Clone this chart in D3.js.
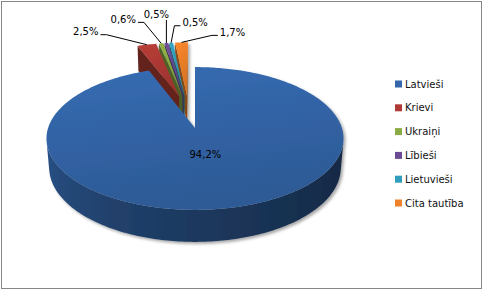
<!DOCTYPE html>
<html>
<head>
<meta charset="utf-8">
<script src="https://cdn.jsdelivr.net/npm/d3@7"></script>
<style>
html, body { margin: 0; padding: 0; background: #fff; }
svg { display: block; font-family: "DejaVu Sans", Verdana, sans-serif; }
</style>
</head>
<body>
<svg id="chart" width="483" height="291"></svg>
<script>
// data
var categories = ["Latvieši", "Krievi", "Ukraiņi", "Lībieši", "Lietuvieši", "Cita tautība"];
var shares = [94.2, 2.5, 0.6, 0.5, 0.5, 1.7];
var valueLabels = ["94,2%", "2,5%", "0,6%", "0,5%", "0,5%", "1,7%"];
var colors = ["#3366aa", "#b03a35", "#8aab43", "#6b4b94", "#319dbc", "#ef8129"];

// layout of the 3d pie (unit radius world, perspective camera)
var thick = 0.227, explode = 0.25,
	elev = 28.4 * Math.PI / 180, camDist = 5.99, focal = 880,
	screenCx = 195, screenCy = 128,
	sinE = Math.sin(elev), cosE = Math.cos(elev);
// label text offsets from the slice's outer edge point
var labelOffsets = [null, [-61, -13], [-38, -24], [-10, -28], [24, -20], [51, -10]];

var svg = d3.select("#chart");
var defs = svg.append("defs");

defs.append("filter").attr("id", "shadow")
	.attr("x", "-10%").attr("y", "-10%").attr("width", "130%").attr("height", "130%")
	.append("feDropShadow")
	.attr("dx", 2).attr("dy", 2).attr("stdDeviation", 1.6)
	.attr("flood-color", "#000").attr("flood-opacity", 0.35);

svg.append("rect")
	.attr("x", 1.5).attr("y", 1.5)
	.attr("width", 480).attr("height", 287)
	.attr("fill", "#fff").attr("stroke", "#868686");

var arcs = d3.pie().sort(null).value(function(d) { return d; })
	.startAngle(0).endAngle(2 * Math.PI)(shares);

arcs.forEach(function(a) {
	a.mid = (a.startAngle + a.endAngle) / 2;
	a.off = { x: explode * Math.sin(a.mid), z: -explode * Math.cos(a.mid) };
});

// camera looks at the centre of the biggest slice
var target = arcs[0].off;
var cam = { x: target.x, y: camDist * sinE, z: target.z + camDist * cosE };

function project(X, Y, Z) {
	var x = X - target.x, z = Z - target.z;
	var depth = camDist - (Y * sinE + z * cosE);
	return [screenCx + focal * x / depth, screenCy - focal * (Y * cosE - z * sinE) / depth, depth];
}
function rim(a, theta, r, y) {
	return project(a.off.x + r * Math.sin(theta), y, a.off.z - r * Math.cos(theta));
}
function facing(nx, nz, px, py, pz) {
	return nx * (cam.x - px) + nz * (cam.z - pz) > 0;
}

var line = d3.line();
var pieG = svg.append("g").attr("filter", "url(#shadow)");

function wallShade(base, theta) {
	var deg = ((theta * 180 / Math.PI) % 360 + 360) % 360;
	var t = Math.max(0, Math.min(1, (260 - deg) / 160));
	return d3.color(base).darker(0.6 + 2.1 * t).formatHex();
}

function sliceFaces(a, i) {
	var base = colors[i];
	var faces = [];
	var n = Math.max(2, Math.ceil((a.endAngle - a.startAngle) / (Math.PI / 180)));
	var step = (a.endAngle - a.startAngle) / n;
	var cx = a.off.x, cz = a.off.z;

	// outer wall: runs of front facing angles, one path each with a shading gradient
	var runs = [], run = null;
	for (var k = 0; k < n; k++) {
		var t0 = a.startAngle + k * step, tm = t0 + step / 2;
		var nx = Math.sin(tm), nz = -Math.cos(tm);
		if (facing(nx, nz, cx + nx, 0, cz + nz)) {
			if (!run) { run = [t0]; runs.push(run); }
			run.push(t0 + step);
		} else run = null;
	}
	runs.forEach(function(r, j) {
		var topPts = r.map(function(t) { return rim(a, t, 1, 0); });
		var botPts = r.map(function(t) { return rim(a, t, 1, -thick); }).reverse();
		var xs = d3.extent(topPts, function(p) { return p[0]; });
		var id = "wall" + i + "_" + j;
		var g = defs.append("linearGradient").attr("id", id)
			.attr("gradientUnits", "userSpaceOnUse")
			.attr("x1", xs[0]).attr("x2", xs[1]).attr("y1", 0).attr("y2", 0);
		r.map(function(t, m) { return [(topPts[m][0] - xs[0]) / Math.max(1e-6, xs[1] - xs[0]), t]; })
			.sort(function(p, q) { return p[0] - q[0]; })
			.forEach(function(s) {
				g.append("stop").attr("offset", s[0]).attr("stop-color", wallShade(base, s[1]));
			});
		var pts = topPts.concat(botPts);
		faces.push({ pts: pts, fill: "url(#" + id + ")", depth: d3.mean(pts, function(p) { return p[2]; }) });
	});
	// radial walls
	[[a.startAngle, -Math.cos(a.startAngle), -Math.sin(a.startAngle)],
	 [a.endAngle, Math.cos(a.endAngle), Math.sin(a.endAngle)]].forEach(function(w) {
		if (!facing(w[1], w[2], cx + 0.5 * Math.sin(w[0]), 0, cz - 0.5 * Math.cos(w[0]))) return;
		var pts = [rim(a, w[0], 0, 0), rim(a, w[0], 1, 0), rim(a, w[0], 1, -thick), rim(a, w[0], 0, -thick)];
		faces.push({ pts: pts, fill: d3.color(base).darker(1.6).formatHex(), depth: d3.mean(pts, function(p) { return p[2]; }) });
	});
	faces.sort(function(p, q) { return q.depth - p.depth; });

	// top face
	var top = [rim(a, 0, 0, 0)];
	for (var k = 0; k <= n; k++) top.push(rim(a, a.startAngle + k * step, 1, 0));
	faces.push({ pts: top, fill: "url(#top" + i + ")" });
	return faces;
}

arcs.forEach(function(a, i) {
	var g = defs.append("linearGradient").attr("id", "top" + i)
		.attr("x1", 0).attr("y1", 0).attr("x2", 0.25).attr("y2", 1);
	g.append("stop").attr("offset", "0%").attr("stop-color", d3.color(colors[i]).brighter(0.15).formatHex());
	g.append("stop").attr("offset", "100%").attr("stop-color", d3.color(colors[i]).darker(0.35).formatHex());
	a.sortDepth = rim(a, a.mid, 0.5, 0)[2];
});

var order = arcs.map(function(a, i) { return i; })
	.sort(function(p, q) { return arcs[q].sortDepth - arcs[p].sortDepth; });

order.forEach(function(i) {
	var sg = pieG.append("g").attr("class", "slice");
	sliceFaces(arcs[i], i).forEach(function(f) {
		sg.append("path")
			.attr("d", line(f.pts.map(function(p) { return [p[0], p[1]]; })) + "Z")
			.attr("fill", f.fill);
	});
});

// data labels
var labelG = svg.append("g")
	.attr("font-size", "10px").attr("fill", "#000");

arcs.forEach(function(a, i) {
	if (!labelOffsets[i]) {
		var p = rim(a, a.mid, 0.37, 0);
		labelG.append("text")
			.attr("x", p[0]).attr("y", p[1])
			.attr("text-anchor", "middle").attr("dominant-baseline", "central")
			.text(valueLabels[i]);
		return;
	}
	var anchor = rim(a, a.mid, 1, 0);
	var c = [anchor[0] + labelOffsets[i][0], anchor[1] + labelOffsets[i][1]];
	var txt = labelG.append("text")
		.attr("x", c[0]).attr("y", c[1])
		.attr("text-anchor", "middle").attr("dominant-baseline", "central")
		.text(valueLabels[i]);
	var w = txt.node().getComputedTextLength();
	var dx = c[0] - anchor[0], pts;
	if (Math.abs(dx) <= w / 2) {
		pts = [[anchor[0], c[1] + 5], [anchor[0], anchor[1]]];
	} else {
		var side = dx < 0 ? 1 : -1;
		var ex = c[0] + side * (w / 2 + 2), ey = c[1] + 3;
		pts = [[ex, ey], [ex + side * 6, ey], [anchor[0], anchor[1]]];
	}
	labelG.append("path")
		.attr("d", line(pts))
		.attr("fill", "none").attr("stroke", "#000").attr("stroke-width", 1);
});

// legend
var legendY = d3.scalePoint().domain(categories).range([84, 203]);
var legend = svg.append("g").attr("font-size", "10px");
legend.selectAll("rect").data(categories).enter().append("rect")
	.attr("x", 395)
	.attr("y", function(d) { return legendY(d) - 3.5; })
	.attr("width", 7).attr("height", 7)
	.attr("fill", function(d, i) { return colors[i]; });
legend.selectAll("text").data(categories).enter().append("text")
	.attr("x", 405)
	.attr("y", function(d) { return legendY(d); })
	.attr("dominant-baseline", "central")
	.attr("fill", "#111")
	.text(function(d) { return d; });
</script>
</body>
</html>
